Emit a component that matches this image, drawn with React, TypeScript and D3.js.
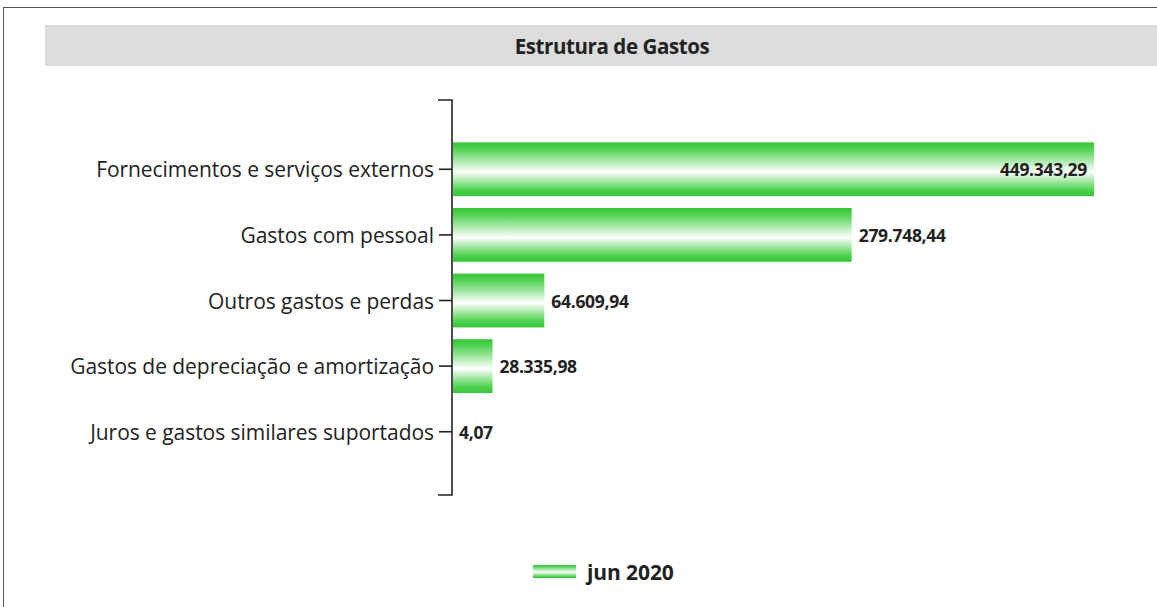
import React from "react";
import * as d3 from "d3";

const categories = [
  "Fornecimentos e serviços externos",
  "Gastos com pessoal",
  "Outros gastos e perdas",
  "Gastos de depreciação e amortização",
  "Juros e gastos similares suportados",
];
const values = [449343.29, 279748.44, 64609.94, 28335.98, 4.07];
const valueLabels = ["449.343,29", "279.748,44", "64.609,94", "28.335,98", "4,07"];
const seriesName = "jun 2020";
const title = "Estrutura de Gastos";

const W = 1157;
const H = 607;
const FONT = "'Open Sans', 'Noto Sans', sans-serif";

export default function App() {
  const x0 = 452;
  const x = d3.scaleLinear().domain([0, d3.max(values) as number]).range([x0, 1094]);
  const y = d3.scaleBand().domain(categories).range([103, 498]).paddingInner(0.18).paddingOuter(0.6);
  const axisTop = 100;
  const axisBottom = 495;

  return (
    <svg width={W} height={H} style={{ position: "absolute", left: 0, top: 0, background: "#fff" }}>
      <defs>
        <linearGradient id="barGrad" x1="0" y1="0" x2="0" y2="1">
          <stop offset="0%" stopColor="#38c438" />
          <stop offset="12%" stopColor="#4fd24f" />
          <stop offset="55%" stopColor="#ffffff" />
          <stop offset="88%" stopColor="#4fd24f" />
          <stop offset="100%" stopColor="#38c438" />
        </linearGradient>
      </defs>
      <rect x={3.5} y={7.5} width={W + 10} height={H + 10} fill="none" stroke="#555" strokeWidth={1} />
      <rect x={45} y={25} width={W - 45} height={41} fill="#dcdcdc" />
      <text x={612} y={46} textAnchor="middle" dominantBaseline="central" fontFamily={FONT} fontWeight={700} fontSize={20.5} fill="#222" letterSpacing={-0.4}>
        {title}
      </text>

      {/* axis */}
      <path d={`M${x0 - 14},${axisTop}H${x0}V${axisBottom}H${x0 - 14}`} fill="none" stroke="#222" strokeWidth={1.6} />

      {categories.map((c, i) => {
        const cy = (y(c) as number) + y.bandwidth() / 2;
        const w = x(values[i]) - x0;
        const inside = i === 0;
        return (
          <g key={c}>
            <line x1={x0 - 13} x2={x0} y1={cy} y2={cy} stroke="#222" strokeWidth={1.6} />
            <text x={x0 - 18} y={cy} textAnchor="end" dominantBaseline="central" fontFamily={FONT} fontSize={21} fill="#222" letterSpacing={-0.05}>
              {c}
            </text>
            {w > 0.5 && (
              <rect x={x0 + 1} y={y(c)} width={w - 1} height={y.bandwidth()} fill="url(#barGrad)" />
            )}
            <text
              x={inside ? x(values[i]) - 7 : x(values[i]) + 7}
              y={cy}
              textAnchor={inside ? "end" : "start"}
              dominantBaseline="central"
              fontFamily={FONT}
              fontWeight={700}
              fontSize={17.5}
              fill="#222"
              letterSpacing={-0.3}
            >
              {valueLabels[i]}
            </text>
          </g>
        );
      })}

      {/* legend */}
      <rect x={533} y={565} width={43} height={13} fill="url(#barGrad)" />
      <text x={587} y={572} dominantBaseline="central" fontFamily={FONT} fontWeight={700} fontSize={21} fill="#222" letterSpacing={-0.1}>
        {seriesName}
      </text>
    </svg>
  );
}
